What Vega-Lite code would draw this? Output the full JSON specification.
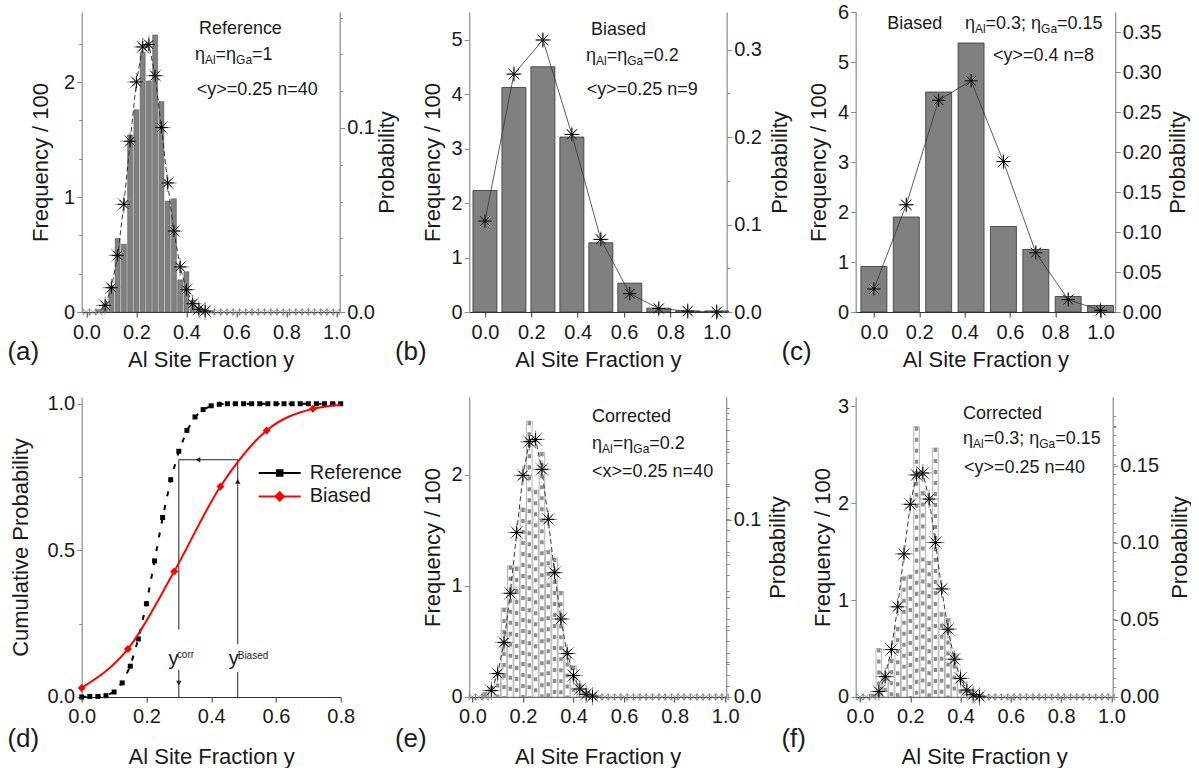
{
"$schema": "https://vega.github.io/schema/vega-lite/v6.json",
"background": "white",
"padding": {"left": 6.7, "top": 2, "right": 0, "bottom": 0},
"autosize": {"type": "pad"},
"columns": 3,
"spacing": {"row": 85, "column": 128.5},
"bounds": "flush",
"resolve": {"scale": {"fill": "independent", "stroke": "independent", "shape": "independent"}, "legend": {"fill": "independent", "stroke": "independent", "shape": "independent"}},
"datasets": {
"one": [{}],
"binom": [{"frac":0.075,"prob":0.0036},{"frac":0.1,"prob":0.0132},{"frac":0.125,"prob":0.0308},{"frac":0.15,"prob":0.0585},{"frac":0.175,"prob":0.0928},{"frac":0.2,"prob":0.125},{"frac":0.225,"prob":0.144},{"frac":0.25,"prob":0.1453},{"frac":0.275,"prob":0.1284},{"frac":0.3,"prob":0.1002},{"frac":0.325,"prob":0.0701},{"frac":0.35,"prob":0.044},{"frac":0.375,"prob":0.0245},{"frac":0.4,"prob":0.0121},{"frac":0.425,"prob":0.0045},{"frac":0.45,"prob":0.0015},{"frac":0.475,"prob":0.0005}],
"tail": [{"frac":0,"prob":0},{"frac":0.025,"prob":0},{"frac":0.05,"prob":0},{"frac":0.5,"prob":0},{"frac":0.525,"prob":0},{"frac":0.55,"prob":0},{"frac":0.575,"prob":0},{"frac":0.6,"prob":0},{"frac":0.625,"prob":0},{"frac":0.65,"prob":0},{"frac":0.675,"prob":0},{"frac":0.7,"prob":0},{"frac":0.725,"prob":0},{"frac":0.75,"prob":0},{"frac":0.775,"prob":0},{"frac":0.8,"prob":0},{"frac":0.825,"prob":0},{"frac":0.85,"prob":0},{"frac":0.875,"prob":0},{"frac":0.9,"prob":0},{"frac":0.925,"prob":0},{"frac":0.95,"prob":0},{"frac":0.975,"prob":0},{"frac":1,"prob":0}],
"ha": [{"frac":0.05,"freq":0.02},{"frac":0.075,"freq":0.07},{"frac":0.1,"freq":0.23},{"frac":0.125,"freq":0.64},{"frac":0.15,"freq":0.59},{"frac":0.175,"freq":1.54},{"frac":0.2,"freq":1.76},{"frac":0.225,"freq":2.26},{"frac":0.25,"freq":2.01},{"frac":0.275,"freq":2.41},{"frac":0.3,"freq":1.83},{"frac":0.325,"freq":0.965},{"frac":0.35,"freq":0.985},{"frac":0.375,"freq":0.28},{"frac":0.4,"freq":0.35},{"frac":0.425,"freq":0.1},{"frac":0.45,"freq":0.04},{"frac":0.475,"freq":0.02},{"frac":0.5,"freq":0.01}],
"he": [{"frac":0.05,"freq":0.04},{"frac":0.075,"freq":0.09},{"frac":0.1,"freq":0.22},{"frac":0.125,"freq":0.8},{"frac":0.15,"freq":1.18},{"frac":0.175,"freq":1.17},{"frac":0.2,"freq":1.7},{"frac":0.225,"freq":2.48},{"frac":0.25,"freq":1.86},{"frac":0.275,"freq":2.2},{"frac":0.3,"freq":1.32},{"frac":0.325,"freq":1.25},{"frac":0.35,"freq":0.95},{"frac":0.375,"freq":0.41},{"frac":0.4,"freq":0.28},{"frac":0.425,"freq":0.11},{"frac":0.45,"freq":0.05},{"frac":0.475,"freq":0.02}],
"hf": [{"frac":0.05,"freq":0.03},{"frac":0.075,"freq":0.5},{"frac":0.1,"freq":0.21},{"frac":0.125,"freq":0.39},{"frac":0.15,"freq":0.72},{"frac":0.175,"freq":1.24},{"frac":0.2,"freq":1.26},{"frac":0.225,"freq":2.79},{"frac":0.25,"freq":2.12},{"frac":0.275,"freq":1.4},{"frac":0.3,"freq":2.57},{"frac":0.325,"freq":0.87},{"frac":0.35,"freq":0.81},{"frac":0.375,"freq":0.45},{"frac":0.4,"freq":0.19},{"frac":0.425,"freq":0.08},{"frac":0.45,"freq":0.04},{"frac":0.475,"freq":0.01}],
"hb": [{"frac":0,"freq":2.23},{"frac":0.125,"freq":4.12},{"frac":0.25,"freq":4.5},{"frac":0.375,"freq":3.21},{"frac":0.5,"freq":1.27},{"frac":0.625,"freq":0.53},{"frac":0.75,"freq":0.07},{"frac":0.875,"freq":0.02},{"frac":1,"freq":0.02}],
"pb": [{"frac":0,"prob":0.104},{"frac":0.125,"prob":0.272},{"frac":0.25,"prob":0.311},{"frac":0.375,"prob":0.203},{"frac":0.5,"prob":0.083},{"frac":0.625,"prob":0.021},{"frac":0.75,"prob":0.004},{"frac":0.875,"prob":0.001},{"frac":1,"prob":0}],
"hc": [{"frac":0,"freq":0.91},{"frac":0.1429,"freq":1.9},{"frac":0.2857,"freq":4.4},{"frac":0.4286,"freq":5.38},{"frac":0.5714,"freq":1.71},{"frac":0.7143,"freq":1.25},{"frac":0.8571,"freq":0.31},{"frac":1,"freq":0.13}],
"pc": [{"frac":0,"prob":0.0288},{"frac":0.1429,"prob":0.134},{"frac":0.2857,"prob":0.2646},{"frac":0.4286,"prob":0.289},{"frac":0.5714,"prob":0.188},{"frac":0.7143,"prob":0.074},{"frac":0.8571,"prob":0.0154},{"frac":1,"prob":0.002}],
"cum": [{"series":"Reference","frac":0,"cum":0},{"series":"Reference","frac":0.025,"cum":0.002},{"series":"Reference","frac":0.05,"cum":0.002},{"series":"Reference","frac":0.075,"cum":0.0045},{"series":"Reference","frac":0.1,"cum":0.017},{"series":"Reference","frac":0.125,"cum":0.048},{"series":"Reference","frac":0.15,"cum":0.105},{"series":"Reference","frac":0.175,"cum":0.198},{"series":"Reference","frac":0.2,"cum":0.318},{"series":"Reference","frac":0.225,"cum":0.464},{"series":"Reference","frac":0.25,"cum":0.612},{"series":"Reference","frac":0.275,"cum":0.741},{"series":"Reference","frac":0.3,"cum":0.838},{"series":"Reference","frac":0.325,"cum":0.909},{"series":"Reference","frac":0.35,"cum":0.955},{"series":"Reference","frac":0.375,"cum":0.98},{"series":"Reference","frac":0.4,"cum":0.993},{"series":"Reference","frac":0.425,"cum":0.998},{"series":"Reference","frac":0.45,"cum":1},{"series":"Reference","frac":0.475,"cum":1},{"series":"Reference","frac":0.5,"cum":1},{"series":"Reference","frac":0.525,"cum":1},{"series":"Reference","frac":0.55,"cum":1},{"series":"Reference","frac":0.575,"cum":1},{"series":"Reference","frac":0.6,"cum":1},{"series":"Reference","frac":0.625,"cum":1},{"series":"Reference","frac":0.65,"cum":1},{"series":"Reference","frac":0.675,"cum":1},{"series":"Reference","frac":0.7,"cum":1},{"series":"Reference","frac":0.725,"cum":1},{"series":"Reference","frac":0.75,"cum":1},{"series":"Reference","frac":0.775,"cum":1},{"series":"Reference","frac":0.8,"cum":1},{"series":"Biased","frac":0,"cum":0.031},{"series":"Biased","frac":0.1429,"cum":0.164},{"series":"Biased","frac":0.2857,"cum":0.428},{"series":"Biased","frac":0.4286,"cum":0.718},{"series":"Biased","frac":0.5714,"cum":0.909},{"series":"Biased","frac":0.7143,"cum":0.983},{"series":"Biased","frac":0.8,"cum":0.996}],
"dseg": [{"frac":0.3,"cum":0.809,"frac2":0.482,"cum2":0.809},{"frac":0.3,"cum":0.809,"frac2":0.3,"cum2":0.23},{"frac":0.3,"cum":0.093,"frac2":0.3,"cum2":0},{"frac":0.482,"cum":0.809,"frac2":0.482,"cum2":0.18},{"frac":0.482,"cum":0.085,"frac2":0.482,"cum2":0}],
"darrow": [{"frac":0.3,"cum":0.047,"dir":"down"},{"frac":0.482,"cum":0.735,"dir":"up"},{"frac":0.359,"cum":0.809,"dir":"left"}]
},
"concat": [
{
"width": 258, "height": 300,
"title": {"text": "(a)", "orient": "bottom", "anchor": "start", "frame": "group", "dx": -74.3, "dy": -31.5, "offset": 0, "fontSize": 26, "fontWeight": "normal", "color": "#1a1a1a"},
"layer": [
{"layer": [
{"data": {"name": "ha"}, "mark": {"type": "bar", "width": 5, "fill": "#808080", "stroke": "#4a4a4a", "strokeWidth": 0.5},
 "encoding": {
  "x": {"field": "frac", "type": "quantitative", "scale": {"domain": [-0.0188, 1.0132], "nice": false, "padding": 0}, "title": "Al Site Fraction y",
        "axis": {"values": [0,0.1,0.2,0.3,0.4,0.5,0.6,0.7,0.8,0.9,1], "labelOverlap": false, "labelExpr": "round(datum.value*10) % 2 === 0 ? format(datum.value, '.1f') : ''", "tickSize": {"condition": {"test": "round(datum.value*10) % 2 === 0", "value": 5}, "value": 3}, "titlePadding": 7}},
  "y": {"field": "freq", "type": "quantitative", "scale": {"domain": [0, 2.609], "nice": false}, "title": "Frequency / 100",
        "axis": {"values": [0,0.3333,0.6667,1,1.3333,1.6667,2,2.3333], "labelOverlap": false, "labelExpr": "abs(datum.value - round(datum.value)) < 0.01 ? format(datum.value, 'd') : ''", "tickSize": {"condition": {"test": "abs(datum.value - round(datum.value)) < 0.01", "value": 5}, "value": 3}, "titlePadding": 11}}}},
{"data": {"name": "one"}, "mark": {"type": "text", "text": "Reference", "align": "left", "baseline": "alphabetic", "fontSize": 18}, "encoding": {"x": {"datum": 0.45, "type": "quantitative", "scale": {"domain": [-0.0188, 1.0132], "nice": false}}, "y": {"datum": 2.421, "type": "quantitative", "scale": {"domain": [0, 2.609], "nice": false}}}},
{"data": {"name": "one"}, "mark": {"type": "text", "text": "η", "align": "left", "baseline": "alphabetic", "fontSize": 18}, "encoding": {"x": {"datum": 0.434, "type": "quantitative", "scale": {"domain": [-0.0188, 1.0132], "nice": false}}, "y": {"datum": 2.189, "type": "quantitative", "scale": {"domain": [0, 2.609], "nice": false}}}},
{"data": {"name": "one"}, "mark": {"type": "text", "text": "Al", "align": "left", "baseline": "alphabetic", "fontSize": 12, "dx": 10, "dy": 4}, "encoding": {"x": {"datum": 0.434, "type": "quantitative", "scale": {"domain": [-0.0188, 1.0132], "nice": false}}, "y": {"datum": 2.189, "type": "quantitative", "scale": {"domain": [0, 2.609], "nice": false}}}},
{"data": {"name": "one"}, "mark": {"type": "text", "text": "=η", "align": "left", "baseline": "alphabetic", "fontSize": 18, "dx": 20.7}, "encoding": {"x": {"datum": 0.434, "type": "quantitative", "scale": {"domain": [-0.0188, 1.0132], "nice": false}}, "y": {"datum": 2.189, "type": "quantitative", "scale": {"domain": [0, 2.609], "nice": false}}}},
{"data": {"name": "one"}, "mark": {"type": "text", "text": "Ga", "align": "left", "baseline": "alphabetic", "fontSize": 12, "dx": 41.2, "dy": 4}, "encoding": {"x": {"datum": 0.434, "type": "quantitative", "scale": {"domain": [-0.0188, 1.0132], "nice": false}}, "y": {"datum": 2.189, "type": "quantitative", "scale": {"domain": [0, 2.609], "nice": false}}}},
{"data": {"name": "one"}, "mark": {"type": "text", "text": "=1", "align": "left", "baseline": "alphabetic", "fontSize": 18, "dx": 57.2}, "encoding": {"x": {"datum": 0.434, "type": "quantitative", "scale": {"domain": [-0.0188, 1.0132], "nice": false}}, "y": {"datum": 2.189, "type": "quantitative", "scale": {"domain": [0, 2.609], "nice": false}}}},
{"data": {"name": "one"}, "mark": {"type": "text", "text": "<y>=0.25 n=40", "align": "left", "baseline": "alphabetic", "fontSize": 18}, "encoding": {"x": {"datum": 0.441, "type": "quantitative", "scale": {"domain": [-0.0188, 1.0132], "nice": false}}, "y": {"datum": 1.89, "type": "quantitative", "scale": {"domain": [0, 2.609], "nice": false}}}}
]},
{"layer": [
{"data": {"name": "tail"}, "mark": {"type": "point", "shape": "M-1,-1L1,1L1,-1L-1,1Z", "size": 42, "stroke": "#808080", "strokeWidth": 0.8, "filled": false, "opacity": 1},
 "encoding": {"x": {"field": "frac", "type": "quantitative", "scale": {"domain": [-0.0188, 1.0132], "nice": false}, "title": "Al Site Fraction y"},
  "y": {"field": "prob", "type": "quantitative", "scale": {"domain": [0, 0.163], "nice": false}, "title": "Probability",
        "axis": {"orient": "right", "values": [0, 0.1], "format": ".1f", "tickSize": 5, "titleAngle": 270, "titleBaseline": "top", "titlePadding": 2}}}},
{"data": {"name": "binom"}, "mark": {"type": "line", "stroke": "#222222", "strokeWidth": 0.9, "strokeDash": [5, 3]},
 "encoding": {"x": {"field": "frac", "type": "quantitative", "scale": {"domain": [-0.0188, 1.0132], "nice": false}, "title": "Al Site Fraction y"}, "y": {"field": "prob", "type": "quantitative", "scale": {"domain": [0, 0.163], "nice": false}, "title": null,
        "axis": {"orient": "right", "values": [0.02,0.04,0.06,0.08,0.12,0.14,0.16], "labels": false, "domain": false, "tickSize": 3, "title": null}}}},
{"data": {"name": "binom"}, "mark": {"type": "point", "shape": "M-1,0L1,0M0,-1L0,1M-0.71,-0.71L0.71,0.71M-0.71,0.71L0.71,-0.71", "size": 324, "stroke": "#8a8a8a", "strokeWidth": 1, "filled": false, "opacity": 1},
 "encoding": {"x": {"field": "frac", "type": "quantitative", "scale": {"domain": [-0.0188, 1.0132], "nice": false}, "title": "Al Site Fraction y"}, "y": {"field": "prob", "type": "quantitative", "scale": {"domain": [0, 0.163], "nice": false}, "axis": null}}},
{"data": {"name": "binom"}, "mark": {"type": "point", "shape": "M-1,0L1,0M0,-1L0,1M-0.71,-0.71L0.71,0.71M-0.71,0.71L0.71,-0.71", "size": 150, "stroke": "#000000", "strokeWidth": 1, "filled": false, "opacity": 1},
 "encoding": {"x": {"field": "frac", "type": "quantitative", "scale": {"domain": [-0.0188, 1.0132], "nice": false}, "title": "Al Site Fraction y"}, "y": {"field": "prob", "type": "quantitative", "scale": {"domain": [0, 0.163], "nice": false}, "axis": null}}}
],
"resolve": {"axis": {"y": "independent"}}}
],
"resolve": {"scale": {"y": "independent"}}
},
{
"width": 257.5, "height": 300,
"title": {"text": "(b)", "orient": "bottom", "anchor": "start", "frame": "group", "dx": -74.3, "dy": -31.5, "offset": 0, "fontSize": 26, "fontWeight": "normal", "color": "#1a1a1a"},
"layer": [
{"layer": [
{"data": {"name": "hb"}, "mark": {"type": "bar", "width": 24, "fill": "#808080", "stroke": "#333333", "strokeWidth": 0.8},
 "encoding": {
  "x": {"field": "frac", "type": "quantitative", "scale": {"domain": [-0.068, 1.043], "nice": false, "padding": 0}, "title": "Al Site Fraction y",
        "axis": {"values": [0,0.1,0.2,0.3,0.4,0.5,0.6,0.7,0.8,0.9,1], "labelOverlap": false, "labelExpr": "round(datum.value*10) % 2 === 0 ? format(datum.value, '.1f') : ''", "tickSize": {"condition": {"test": "round(datum.value*10) % 2 === 0", "value": 5}, "value": 3}, "titlePadding": 7}},
  "y": {"field": "freq", "type": "quantitative", "scale": {"domain": [0, 5.505], "nice": false}, "title": "Frequency / 100",
        "axis": {"values": [0,0.5,1,1.5,2,2.5,3,3.5,4,4.5,5,5.5], "labelOverlap": false, "labelExpr": "abs(datum.value - round(datum.value)) < 0.01 ? format(datum.value, 'd') : ''", "tickSize": {"condition": {"test": "abs(datum.value - round(datum.value)) < 0.01", "value": 5}, "value": 3}, "titlePadding": 7}}}},
{"data": {"name": "one"}, "mark": {"type": "text", "text": "Biased", "align": "left", "baseline": "alphabetic", "fontSize": 18}, "encoding": {"x": {"datum": 0.4575, "type": "quantitative", "scale": {"domain": [-0.068, 1.043], "nice": false}}, "y": {"datum": 5.09, "type": "quantitative", "scale": {"domain": [0, 5.505], "nice": false}}}},
{"data": {"name": "one"}, "mark": {"type": "text", "text": "η", "align": "left", "baseline": "alphabetic", "fontSize": 18}, "encoding": {"x": {"datum": 0.436, "type": "quantitative", "scale": {"domain": [-0.068, 1.043], "nice": false}}, "y": {"datum": 4.605, "type": "quantitative", "scale": {"domain": [0, 5.505], "nice": false}}}},
{"data": {"name": "one"}, "mark": {"type": "text", "text": "Al", "align": "left", "baseline": "alphabetic", "fontSize": 12, "dx": 10, "dy": 4}, "encoding": {"x": {"datum": 0.436, "type": "quantitative", "scale": {"domain": [-0.068, 1.043], "nice": false}}, "y": {"datum": 4.605, "type": "quantitative", "scale": {"domain": [0, 5.505], "nice": false}}}},
{"data": {"name": "one"}, "mark": {"type": "text", "text": "=η", "align": "left", "baseline": "alphabetic", "fontSize": 18, "dx": 20.7}, "encoding": {"x": {"datum": 0.436, "type": "quantitative", "scale": {"domain": [-0.068, 1.043], "nice": false}}, "y": {"datum": 4.605, "type": "quantitative", "scale": {"domain": [0, 5.505], "nice": false}}}},
{"data": {"name": "one"}, "mark": {"type": "text", "text": "Ga", "align": "left", "baseline": "alphabetic", "fontSize": 12, "dx": 41.2, "dy": 4}, "encoding": {"x": {"datum": 0.436, "type": "quantitative", "scale": {"domain": [-0.068, 1.043], "nice": false}}, "y": {"datum": 4.605, "type": "quantitative", "scale": {"domain": [0, 5.505], "nice": false}}}},
{"data": {"name": "one"}, "mark": {"type": "text", "text": "=0.2", "align": "left", "baseline": "alphabetic", "fontSize": 18, "dx": 57.2}, "encoding": {"x": {"datum": 0.436, "type": "quantitative", "scale": {"domain": [-0.068, 1.043], "nice": false}}, "y": {"datum": 4.605, "type": "quantitative", "scale": {"domain": [0, 5.505], "nice": false}}}},
{"data": {"name": "one"}, "mark": {"type": "text", "text": "<y>=0.25 n=9", "align": "left", "baseline": "alphabetic", "fontSize": 18}, "encoding": {"x": {"datum": 0.439, "type": "quantitative", "scale": {"domain": [-0.068, 1.043], "nice": false}}, "y": {"datum": 3.99, "type": "quantitative", "scale": {"domain": [0, 5.505], "nice": false}}}}
]},
{"layer": [
{"data": {"name": "pb"}, "mark": {"type": "line", "stroke": "#333333", "strokeWidth": 0.8},
 "encoding": {"x": {"field": "frac", "type": "quantitative", "scale": {"domain": [-0.068, 1.043], "nice": false}, "title": "Al Site Fraction y"},
  "y": {"field": "prob", "type": "quantitative", "scale": {"domain": [0, 0.343], "nice": false}, "title": "Probability",
        "axis": {"orient": "right", "values": [0,0.05,0.1,0.15,0.2,0.25,0.3], "labelOverlap": false, "labelExpr": "abs(datum.value*10 - round(datum.value*10)) < 0.001 ? format(datum.value, '.1f') : ''", "tickSize": {"condition": {"test": "abs(datum.value*10 - round(datum.value*10)) < 0.001", "value": 5}, "value": 3}, "titleAngle": 270, "titleBaseline": "top", "titlePadding": 8}}}},
{"data": {"name": "pb"}, "mark": {"type": "point", "shape": "M-1,0L1,0M0,-1L0,1M-0.71,-0.71L0.71,0.71M-0.71,0.71L0.71,-0.71", "size": 256, "stroke": "#8a8a8a", "strokeWidth": 1, "filled": false, "opacity": 1},
 "encoding": {"x": {"field": "frac", "type": "quantitative", "scale": {"domain": [-0.068, 1.043], "nice": false}, "title": "Al Site Fraction y"}, "y": {"field": "prob", "type": "quantitative", "scale": {"domain": [0, 0.343], "nice": false}, "title": "Probability"}}},
{"data": {"name": "pb"}, "mark": {"type": "point", "shape": "M-1,0L1,0M0,-1L0,1M-0.71,-0.71L0.71,0.71M-0.71,0.71L0.71,-0.71", "size": 180, "stroke": "#000000", "strokeWidth": 1, "filled": false, "opacity": 1},
 "encoding": {"x": {"field": "frac", "type": "quantitative", "scale": {"domain": [-0.068, 1.043], "nice": false}, "title": "Al Site Fraction y"}, "y": {"field": "prob", "type": "quantitative", "scale": {"domain": [0, 0.343], "nice": false}, "title": "Probability"}}}
]}
],
"resolve": {"scale": {"y": "independent"}}
},
{
"width": 259.5, "height": 300,
"title": {"text": "(c)", "orient": "bottom", "anchor": "start", "frame": "group", "dx": -74.3, "dy": -31.5, "offset": 0, "fontSize": 26, "fontWeight": "normal", "color": "#1a1a1a"},
"layer": [
{"layer": [
{"data": {"name": "hc"}, "mark": {"type": "bar", "width": 26, "fill": "#808080", "stroke": "#333333", "strokeWidth": 0.8},
 "encoding": {
  "x": {"field": "frac", "type": "quantitative", "scale": {"domain": [-0.0803, 1.0644], "nice": false, "padding": 0}, "title": "Al Site Fraction y",
        "axis": {"values": [0,0.1,0.2,0.3,0.4,0.5,0.6,0.7,0.8,0.9,1], "labelOverlap": false, "labelExpr": "round(datum.value*10) % 2 === 0 ? format(datum.value, '.1f') : ''", "tickSize": {"condition": {"test": "round(datum.value*10) % 2 === 0", "value": 5}, "value": 3}, "titlePadding": 7}},
  "y": {"field": "freq", "type": "quantitative", "scale": {"domain": [0, 6], "nice": false}, "title": "Frequency / 100",
        "axis": {"values": [0,0.5,1,1.5,2,2.5,3,3.5,4,4.5,5,5.5,6], "labelOverlap": false, "labelExpr": "abs(datum.value - round(datum.value)) < 0.01 ? format(datum.value, 'd') : ''", "tickSize": {"condition": {"test": "abs(datum.value - round(datum.value)) < 0.01", "value": 5}, "value": 3}, "titlePadding": 7}}}},
{"data": {"name": "one"}, "mark": {"type": "text", "text": "Biased", "align": "left", "baseline": "alphabetic", "fontSize": 18}, "encoding": {"x": {"datum": 0.0587, "type": "quantitative", "scale": {"domain": [-0.0803, 1.0644], "nice": false}}, "y": {"datum": 5.654, "type": "quantitative", "scale": {"domain": [0, 6], "nice": false}}}},
{"data": {"name": "one"}, "mark": {"type": "text", "text": "η", "align": "left", "baseline": "alphabetic", "fontSize": 18}, "encoding": {"x": {"datum": 0.4014, "type": "quantitative", "scale": {"domain": [-0.0803, 1.0644], "nice": false}}, "y": {"datum": 5.668, "type": "quantitative", "scale": {"domain": [0, 6], "nice": false}}}},
{"data": {"name": "one"}, "mark": {"type": "text", "text": "Al", "align": "left", "baseline": "alphabetic", "fontSize": 12, "dx": 10, "dy": 4}, "encoding": {"x": {"datum": 0.4014, "type": "quantitative", "scale": {"domain": [-0.0803, 1.0644], "nice": false}}, "y": {"datum": 5.668, "type": "quantitative", "scale": {"domain": [0, 6], "nice": false}}}},
{"data": {"name": "one"}, "mark": {"type": "text", "text": "=0.3; η", "align": "left", "baseline": "alphabetic", "fontSize": 18, "dx": 20.7}, "encoding": {"x": {"datum": 0.4014, "type": "quantitative", "scale": {"domain": [-0.0803, 1.0644], "nice": false}}, "y": {"datum": 5.668, "type": "quantitative", "scale": {"domain": [0, 6], "nice": false}}}},
{"data": {"name": "one"}, "mark": {"type": "text", "text": "Ga", "align": "left", "baseline": "alphabetic", "fontSize": 12, "dx": 76.2, "dy": 4}, "encoding": {"x": {"datum": 0.4014, "type": "quantitative", "scale": {"domain": [-0.0803, 1.0644], "nice": false}}, "y": {"datum": 5.668, "type": "quantitative", "scale": {"domain": [0, 6], "nice": false}}}},
{"data": {"name": "one"}, "mark": {"type": "text", "text": "=0.15", "align": "left", "baseline": "alphabetic", "fontSize": 18, "dx": 92.2}, "encoding": {"x": {"datum": 0.4014, "type": "quantitative", "scale": {"domain": [-0.0803, 1.0644], "nice": false}}, "y": {"datum": 5.668, "type": "quantitative", "scale": {"domain": [0, 6], "nice": false}}}},
{"data": {"name": "one"}, "mark": {"type": "text", "text": "<y>=0.4 n=8", "align": "left", "baseline": "alphabetic", "fontSize": 18}, "encoding": {"x": {"datum": 0.525, "type": "quantitative", "scale": {"domain": [-0.0803, 1.0644], "nice": false}}, "y": {"datum": 5.014, "type": "quantitative", "scale": {"domain": [0, 6], "nice": false}}}}
]},
{"layer": [
{"data": {"name": "pc"}, "mark": {"type": "line", "stroke": "#333333", "strokeWidth": 0.8},
 "encoding": {"x": {"field": "frac", "type": "quantitative", "scale": {"domain": [-0.0803, 1.0644], "nice": false}, "title": "Al Site Fraction y"},
  "y": {"field": "prob", "type": "quantitative", "scale": {"domain": [0, 0.375], "nice": false}, "title": "Probability",
        "axis": {"orient": "right", "values": [0,0.025,0.05,0.075,0.1,0.125,0.15,0.175,0.2,0.225,0.25,0.275,0.3,0.325,0.35,0.375], "labelOverlap": false, "labelExpr": "abs(datum.value*20 - round(datum.value*20)) < 0.001 ? format(datum.value, '.2f') : ''", "tickSize": {"condition": {"test": "abs(datum.value*20 - round(datum.value*20)) < 0.001", "value": 5}, "value": 3}, "titleAngle": 270, "titleBaseline": "top", "titlePadding": 6}}}},
{"data": {"name": "pc"}, "mark": {"type": "point", "shape": "M-1,0L1,0M0,-1L0,1M-0.71,-0.71L0.71,0.71M-0.71,0.71L0.71,-0.71", "size": 256, "stroke": "#8a8a8a", "strokeWidth": 1, "filled": false, "opacity": 1},
 "encoding": {"x": {"field": "frac", "type": "quantitative", "scale": {"domain": [-0.0803, 1.0644], "nice": false}, "title": "Al Site Fraction y"}, "y": {"field": "prob", "type": "quantitative", "scale": {"domain": [0, 0.375], "nice": false}, "title": "Probability"}}},
{"data": {"name": "pc"}, "mark": {"type": "point", "shape": "M-1,0L1,0M0,-1L0,1M-0.71,-0.71L0.71,0.71M-0.71,0.71L0.71,-0.71", "size": 180, "stroke": "#000000", "strokeWidth": 1, "filled": false, "opacity": 1},
 "encoding": {"x": {"field": "frac", "type": "quantitative", "scale": {"domain": [-0.0803, 1.0644], "nice": false}, "title": "Al Site Fraction y"}, "y": {"field": "prob", "type": "quantitative", "scale": {"domain": [0, 0.375], "nice": false}, "title": "Probability"}}}
]}
],
"resolve": {"scale": {"y": "independent"}}
},
{
"width": 259, "height": 300,
"title": {"text": "(d)", "orient": "bottom", "anchor": "start", "frame": "group", "dx": -74.3, "dy": -42, "offset": 0, "fontSize": 26, "fontWeight": "normal", "color": "#1a1a1a"},
"layer": [
{"data": {"name": "dseg"}, "mark": {"type": "rule", "stroke": "#222222", "strokeWidth": 1},
 "encoding": {
  "x": {"field": "frac", "type": "quantitative", "scale": {"domain": [0, 0.8], "nice": false}, "title": "Al Site Fraction y",
        "axis": {"values": [0,0.1,0.2,0.3,0.4,0.5,0.6,0.7,0.8], "labelOverlap": false, "labelExpr": "round(datum.value*10) % 2 === 0 ? format(datum.value, '.1f') : ''", "tickSize": {"condition": {"test": "round(datum.value*10) % 2 === 0", "value": 5}, "value": 3}, "titlePadding": 20}},
  "y": {"field": "cum", "type": "quantitative", "scale": {"domain": [0, 1.023], "nice": false}, "title": "Cumulative Probability",
        "axis": {"values": [0,0.25,0.5,0.75,1], "labelOverlap": false, "labelExpr": "abs(datum.value*2 - round(datum.value*2)) < 0.001 ? format(datum.value, '.1f') : ''", "tickSize": {"condition": {"test": "abs(datum.value*2 - round(datum.value*2)) < 0.001", "value": 5}, "value": 3}, "titlePadding": 14}},
  "x2": {"field": "frac2"}, "y2": {"field": "cum2"}}},
{"data": {"name": "darrow"}, "transform": [{"filter": "datum.dir === 'down'"}], "mark": {"type": "point", "shape": "triangle-down", "size": 30, "filled": true, "color": "#222222", "opacity": 1},
 "encoding": {"x": {"field": "frac", "type": "quantitative", "scale": {"domain": [0, 0.8], "nice": false}}, "y": {"field": "cum", "type": "quantitative", "scale": {"domain": [0, 1.023], "nice": false}}}},
{"data": {"name": "darrow"}, "transform": [{"filter": "datum.dir === 'up'"}], "mark": {"type": "point", "shape": "triangle-up", "size": 30, "filled": true, "color": "#222222", "opacity": 1},
 "encoding": {"x": {"field": "frac", "type": "quantitative", "scale": {"domain": [0, 0.8], "nice": false}}, "y": {"field": "cum", "type": "quantitative", "scale": {"domain": [0, 1.023], "nice": false}}}},
{"data": {"name": "darrow"}, "transform": [{"filter": "datum.dir === 'left'"}], "mark": {"type": "point", "shape": "triangle-left", "size": 30, "filled": true, "color": "#222222", "opacity": 1},
 "encoding": {"x": {"field": "frac", "type": "quantitative", "scale": {"domain": [0, 0.8], "nice": false}}, "y": {"field": "cum", "type": "quantitative", "scale": {"domain": [0, 1.023], "nice": false}}}},
{"data": {"name": "cum"}, "transform": [{"filter": "datum.series === 'Reference'"}], "mark": {"type": "line", "stroke": "#000000", "strokeWidth": 2, "strokeDash": [5, 9]},
 "encoding": {"x": {"field": "frac", "type": "quantitative", "scale": {"domain": [0, 0.8], "nice": false}}, "y": {"field": "cum", "type": "quantitative", "scale": {"domain": [0, 1.023], "nice": false}}}},
{"data": {"name": "cum"}, "transform": [{"filter": "datum.series === 'Reference'"}], "mark": {"type": "point", "shape": "square", "size": 25, "filled": true, "color": "#000000", "opacity": 1},
 "encoding": {"x": {"field": "frac", "type": "quantitative", "scale": {"domain": [0, 0.8], "nice": false}}, "y": {"field": "cum", "type": "quantitative", "scale": {"domain": [0, 1.023], "nice": false}}}},
{"data": {"name": "cum"}, "transform": [{"filter": "datum.series === 'Biased'"}], "mark": {"type": "line", "stroke": "#ff0000", "strokeWidth": 2, "interpolate": "monotone"},
 "encoding": {"x": {"field": "frac", "type": "quantitative", "scale": {"domain": [0, 0.8], "nice": false}}, "y": {"field": "cum", "type": "quantitative", "scale": {"domain": [0, 1.023], "nice": false}}}},
{"data": {"name": "cum"}, "transform": [{"filter": "datum.series === 'Biased' && datum.frac < 0.75"}], "mark": {"type": "point", "shape": "diamond", "size": 64, "filled": true, "color": "#ff0000", "opacity": 1},
 "encoding": {"x": {"field": "frac", "type": "quantitative", "scale": {"domain": [0, 0.8], "nice": false}}, "y": {"field": "cum", "type": "quantitative", "scale": {"domain": [0, 1.023], "nice": false}}}},
{"data": {"name": "cum"}, "transform": [{"filter": "false"}], "mark": {"type": "point", "filled": true, "strokeWidth": 2},
 "encoding": {"x": {"field": "frac", "type": "quantitative", "scale": {"domain": [0, 0.8], "nice": false}}, "y": {"field": "cum", "type": "quantitative", "scale": {"domain": [0, 1.023], "nice": false}},
  "fill": {"field": "series", "type": "nominal", "scale": {"domain": ["Reference", "Biased"], "range": ["#000000", "#ff0000"]},
           "legend": {"title": null, "orient": "none", "legendX": 188, "legendY": 66, "symbolSize": 196, "symbolStrokeWidth": 2, "symbolOpacity": 1, "labelFontSize": 20, "labelFont": "Liberation Sans", "labelColor": "#1a1a1a", "labelOffset": 20, "rowPadding": 3.4, "padding": 0}},
  "stroke": {"field": "series", "type": "nominal", "scale": {"domain": ["Reference", "Biased"], "range": ["#000000", "#ff0000"]},
           "legend": {"title": null, "orient": "none", "legendX": 188, "legendY": 66, "symbolSize": 196, "symbolStrokeWidth": 2, "symbolOpacity": 1, "labelFontSize": 20, "labelFont": "Liberation Sans", "labelColor": "#1a1a1a", "labelOffset": 20, "rowPadding": 3.4, "padding": 0}},
  "shape": {"field": "series", "type": "nominal", "scale": {"domain": ["Reference", "Biased"], "range": ["M-3,0L3,0M-0.4,-0.4L0.4,-0.4L0.4,0.4L-0.4,0.4Z", "M-3,0L3,0M0,-0.6L0.6,0L0,0.6L-0.6,0Z"]},
           "legend": {"title": null, "orient": "none", "legendX": 188, "legendY": 66, "symbolSize": 196, "symbolStrokeWidth": 2, "symbolOpacity": 1, "labelFontSize": 20, "labelFont": "Liberation Sans", "labelColor": "#1a1a1a", "labelOffset": 20, "rowPadding": 3.4, "padding": 0}}}},
{"data": {"name": "one"}, "mark": {"type": "text", "text": "y", "align": "left", "baseline": "alphabetic", "fontSize": 20}, "encoding": {"x": {"datum": 0.268, "type": "quantitative", "scale": {"domain": [0, 0.8], "nice": false}}, "y": {"datum": 0.11, "type": "quantitative", "scale": {"domain": [0, 1.023], "nice": false}}}},
{"data": {"name": "one"}, "mark": {"type": "text", "text": "corr", "align": "left", "baseline": "alphabetic", "fontSize": 10}, "encoding": {"x": {"datum": 0.294, "type": "quantitative", "scale": {"domain": [0, 0.8], "nice": false}}, "y": {"datum": 0.133, "type": "quantitative", "scale": {"domain": [0, 1.023], "nice": false}}}},
{"data": {"name": "one"}, "mark": {"type": "text", "text": "y", "align": "left", "baseline": "alphabetic", "fontSize": 20}, "encoding": {"x": {"datum": 0.454, "type": "quantitative", "scale": {"domain": [0, 0.8], "nice": false}}, "y": {"datum": 0.11, "type": "quantitative", "scale": {"domain": [0, 1.023], "nice": false}}}},
{"data": {"name": "one"}, "mark": {"type": "text", "text": "Biased", "align": "left", "baseline": "alphabetic", "fontSize": 10}, "encoding": {"x": {"datum": 0.482, "type": "quantitative", "scale": {"domain": [0, 0.8], "nice": false}}, "y": {"datum": 0.1296, "type": "quantitative", "scale": {"domain": [0, 1.023], "nice": false}}}}
]
},
{
"width": 257, "height": 300,
"title": {"text": "(e)", "orient": "bottom", "anchor": "start", "frame": "group", "dx": -74.3, "dy": -42, "offset": 0, "fontSize": 26, "fontWeight": "normal", "color": "#1a1a1a"},
"layer": [
{"layer": [
{"data": {"name": "he"}, "mark": {"type": "bar", "width": 5.6, "fill": "#ffffff", "stroke": "#b4b4b4", "strokeWidth": 1},
 "encoding": {
  "x": {"field": "frac", "type": "quantitative", "scale": {"domain": [-0.0127, 1.004], "nice": false, "padding": 0}, "title": "Al Site Fraction y",
        "axis": {"values": [0,0.1,0.2,0.3,0.4,0.5,0.6,0.7,0.8,0.9,1], "labelOverlap": false, "labelExpr": "round(datum.value*10) % 2 === 0 ? format(datum.value, '.1f') : ''", "tickSize": {"condition": {"test": "round(datum.value*10) % 2 === 0", "value": 5}, "value": 3}, "titlePadding": 20}},
  "y": {"field": "freq", "type": "quantitative", "scale": {"domain": [0, 2.698], "nice": false}, "title": "Frequency / 100",
        "axis": {"values": [0, 1, 2], "format": "d", "tickSize": 5, "titlePadding": 7}}}},
{"data": {"name": "he"}, "mark": {"type": "rule", "stroke": "#8c8c8c", "strokeWidth": 3.4, "strokeDash": [4, 7], "strokeCap": "butt"},
 "encoding": {"x": {"field": "frac", "type": "quantitative", "scale": {"domain": [-0.0127, 1.004], "nice": false}}, "y": {"field": "freq", "type": "quantitative", "scale": {"domain": [0, 2.698], "nice": false}, "axis": null}, "y2": {"datum": 0}}},
{"data": {"name": "one"}, "mark": {"type": "text", "text": "Corrected", "align": "left", "baseline": "alphabetic", "fontSize": 18}, "encoding": {"x": {"datum": 0.4736, "type": "quantitative", "scale": {"domain": [-0.0127, 1.004], "nice": false}}, "y": {"datum": 2.473, "type": "quantitative", "scale": {"domain": [0, 2.698], "nice": false},
   "axis": {"values": [0.1,0.2,0.3,0.4,0.5,0.6,0.7,0.8,0.9,1.1,1.2,1.3,1.4,1.5,1.6,1.7,1.8,1.9,2.1,2.2,2.3,2.4,2.5,2.6], "labels": false, "domain": false, "tickSize": 3, "title": null}}}},
{"data": {"name": "one"}, "mark": {"type": "text", "text": "η", "align": "left", "baseline": "alphabetic", "fontSize": 18}, "encoding": {"x": {"datum": 0.4736, "type": "quantitative", "scale": {"domain": [-0.0127, 1.004], "nice": false}}, "y": {"datum": 2.233, "type": "quantitative", "scale": {"domain": [0, 2.698], "nice": false}, "axis": null}}},
{"data": {"name": "one"}, "mark": {"type": "text", "text": "Al", "align": "left", "baseline": "alphabetic", "fontSize": 12, "dx": 10, "dy": 4}, "encoding": {"x": {"datum": 0.4736, "type": "quantitative", "scale": {"domain": [-0.0127, 1.004], "nice": false}}, "y": {"datum": 2.233, "type": "quantitative", "scale": {"domain": [0, 2.698], "nice": false}, "axis": null}}},
{"data": {"name": "one"}, "mark": {"type": "text", "text": "=η", "align": "left", "baseline": "alphabetic", "fontSize": 18, "dx": 20.7}, "encoding": {"x": {"datum": 0.4736, "type": "quantitative", "scale": {"domain": [-0.0127, 1.004], "nice": false}}, "y": {"datum": 2.233, "type": "quantitative", "scale": {"domain": [0, 2.698], "nice": false}, "axis": null}}},
{"data": {"name": "one"}, "mark": {"type": "text", "text": "Ga", "align": "left", "baseline": "alphabetic", "fontSize": 12, "dx": 41.2, "dy": 4}, "encoding": {"x": {"datum": 0.4736, "type": "quantitative", "scale": {"domain": [-0.0127, 1.004], "nice": false}}, "y": {"datum": 2.233, "type": "quantitative", "scale": {"domain": [0, 2.698], "nice": false}, "axis": null}}},
{"data": {"name": "one"}, "mark": {"type": "text", "text": "=0.2", "align": "left", "baseline": "alphabetic", "fontSize": 18, "dx": 57.2}, "encoding": {"x": {"datum": 0.4736, "type": "quantitative", "scale": {"domain": [-0.0127, 1.004], "nice": false}}, "y": {"datum": 2.233, "type": "quantitative", "scale": {"domain": [0, 2.698], "nice": false}, "axis": null}}},
{"data": {"name": "one"}, "mark": {"type": "text", "text": "<x>=0.25 n=40", "align": "left", "baseline": "alphabetic", "fontSize": 18}, "encoding": {"x": {"datum": 0.4736, "type": "quantitative", "scale": {"domain": [-0.0127, 1.004], "nice": false}}, "y": {"datum": 1.978, "type": "quantitative", "scale": {"domain": [0, 2.698], "nice": false}, "axis": null}}}
],
"resolve": {"axis": {"y": "independent"}}},
{"layer": [
{"data": {"name": "tail"}, "mark": {"type": "point", "shape": "M-1,-1L1,1L1,-1L-1,1Z", "size": 42, "stroke": "#808080", "strokeWidth": 0.8, "filled": false, "opacity": 1},
 "encoding": {"x": {"field": "frac", "type": "quantitative", "scale": {"domain": [-0.0127, 1.004], "nice": false}, "title": "Al Site Fraction y"},
  "y": {"field": "prob", "type": "quantitative", "scale": {"domain": [0, 0.1692], "nice": false}, "title": "Probability",
        "axis": {"orient": "right", "values": [0, 0.1], "format": ".1f", "tickSize": 5, "titleAngle": 270, "titleBaseline": "top", "titlePadding": 7}}}},
{"data": {"name": "binom"}, "mark": {"type": "line", "stroke": "#222222", "strokeWidth": 0.9, "strokeDash": [5, 3]},
 "encoding": {"x": {"field": "frac", "type": "quantitative", "scale": {"domain": [-0.0127, 1.004], "nice": false}, "title": "Al Site Fraction y"}, "y": {"field": "prob", "type": "quantitative", "scale": {"domain": [0, 0.1692], "nice": false}, "title": null,
        "axis": {"orient": "right", "values": [0.02,0.04,0.06,0.08,0.12,0.14,0.16], "labels": false, "domain": false, "tickSize": 3, "title": null}}}},
{"data": {"name": "binom"}, "mark": {"type": "point", "shape": "M-1,0L1,0M0,-1L0,1M-0.71,-0.71L0.71,0.71M-0.71,0.71L0.71,-0.71", "size": 324, "stroke": "#8a8a8a", "strokeWidth": 1, "filled": false, "opacity": 1},
 "encoding": {"x": {"field": "frac", "type": "quantitative", "scale": {"domain": [-0.0127, 1.004], "nice": false}, "title": "Al Site Fraction y"}, "y": {"field": "prob", "type": "quantitative", "scale": {"domain": [0, 0.1692], "nice": false}, "axis": null}}},
{"data": {"name": "binom"}, "mark": {"type": "point", "shape": "M-1,0L1,0M0,-1L0,1M-0.71,-0.71L0.71,0.71M-0.71,0.71L0.71,-0.71", "size": 150, "stroke": "#000000", "strokeWidth": 1, "filled": false, "opacity": 1},
 "encoding": {"x": {"field": "frac", "type": "quantitative", "scale": {"domain": [-0.0127, 1.004], "nice": false}, "title": "Al Site Fraction y"}, "y": {"field": "prob", "type": "quantitative", "scale": {"domain": [0, 0.1692], "nice": false}, "axis": null}}}
],
"resolve": {"axis": {"y": "independent"}}}
],
"resolve": {"scale": {"y": "independent"}}
},
{
"width": 257, "height": 300,
"title": {"text": "(f)", "orient": "bottom", "anchor": "start", "frame": "group", "dx": -74.3, "dy": -42, "offset": 0, "fontSize": 26, "fontWeight": "normal", "color": "#1a1a1a"},
"layer": [
{"layer": [
{"data": {"name": "hf"}, "mark": {"type": "bar", "width": 5.6, "fill": "#ffffff", "stroke": "#b4b4b4", "strokeWidth": 1},
 "encoding": {
  "x": {"field": "frac", "type": "quantitative", "scale": {"domain": [-0.0171, 1.0052], "nice": false, "padding": 0}, "title": "Al Site Fraction y",
        "axis": {"values": [0,0.1,0.2,0.3,0.4,0.5,0.6,0.7,0.8,0.9,1], "labelOverlap": false, "labelExpr": "round(datum.value*10) % 2 === 0 ? format(datum.value, '.1f') : ''", "tickSize": {"condition": {"test": "round(datum.value*10) % 2 === 0", "value": 5}, "value": 3}, "titlePadding": 20}},
  "y": {"field": "freq", "type": "quantitative", "scale": {"domain": [0, 3.096], "nice": false}, "title": "Frequency / 100",
        "axis": {"values": [0, 1, 2, 3], "format": "d", "tickSize": 5, "titlePadding": 3}}}},
{"data": {"name": "hf"}, "mark": {"type": "rule", "stroke": "#8c8c8c", "strokeWidth": 3.4, "strokeDash": [4, 7], "strokeCap": "butt"},
 "encoding": {"x": {"field": "frac", "type": "quantitative", "scale": {"domain": [-0.0171, 1.0052], "nice": false}}, "y": {"field": "freq", "type": "quantitative", "scale": {"domain": [0, 3.096], "nice": false}, "axis": null}, "y2": {"datum": 0}}},
{"data": {"name": "one"}, "mark": {"type": "text", "text": "Corrected", "align": "left", "baseline": "alphabetic", "fontSize": 18}, "encoding": {"x": {"datum": 0.41, "type": "quantitative", "scale": {"domain": [-0.0171, 1.0052], "nice": false}}, "y": {"datum": 2.869, "type": "quantitative", "scale": {"domain": [0, 3.096], "nice": false},
   "axis": {"values": [0.1,0.2,0.3,0.4,0.5,0.6,0.7,0.8,0.9,1.1,1.2,1.3,1.4,1.5,1.6,1.7,1.8,1.9,2.1,2.2,2.3,2.4,2.5,2.6,2.7,2.8,2.9], "labels": false, "domain": false, "tickSize": 3, "title": null}}}},
{"data": {"name": "one"}, "mark": {"type": "text", "text": "η", "align": "left", "baseline": "alphabetic", "fontSize": 18}, "encoding": {"x": {"datum": 0.41, "type": "quantitative", "scale": {"domain": [-0.0171, 1.0052], "nice": false}}, "y": {"datum": 2.614, "type": "quantitative", "scale": {"domain": [0, 3.096], "nice": false}, "axis": null}}},
{"data": {"name": "one"}, "mark": {"type": "text", "text": "Al", "align": "left", "baseline": "alphabetic", "fontSize": 12, "dx": 10, "dy": 4}, "encoding": {"x": {"datum": 0.41, "type": "quantitative", "scale": {"domain": [-0.0171, 1.0052], "nice": false}}, "y": {"datum": 2.614, "type": "quantitative", "scale": {"domain": [0, 3.096], "nice": false}, "axis": null}}},
{"data": {"name": "one"}, "mark": {"type": "text", "text": "=0.3; η", "align": "left", "baseline": "alphabetic", "fontSize": 18, "dx": 20.7}, "encoding": {"x": {"datum": 0.41, "type": "quantitative", "scale": {"domain": [-0.0171, 1.0052], "nice": false}}, "y": {"datum": 2.614, "type": "quantitative", "scale": {"domain": [0, 3.096], "nice": false}, "axis": null}}},
{"data": {"name": "one"}, "mark": {"type": "text", "text": "Ga", "align": "left", "baseline": "alphabetic", "fontSize": 12, "dx": 76.2, "dy": 4}, "encoding": {"x": {"datum": 0.41, "type": "quantitative", "scale": {"domain": [-0.0171, 1.0052], "nice": false}}, "y": {"datum": 2.614, "type": "quantitative", "scale": {"domain": [0, 3.096], "nice": false}, "axis": null}}},
{"data": {"name": "one"}, "mark": {"type": "text", "text": "=0.15", "align": "left", "baseline": "alphabetic", "fontSize": 18, "dx": 92.2}, "encoding": {"x": {"datum": 0.41, "type": "quantitative", "scale": {"domain": [-0.0171, 1.0052], "nice": false}}, "y": {"datum": 2.614, "type": "quantitative", "scale": {"domain": [0, 3.096], "nice": false}, "axis": null}}},
{"data": {"name": "one"}, "mark": {"type": "text", "text": "<y>=0.25 n=40", "align": "left", "baseline": "alphabetic", "fontSize": 18}, "encoding": {"x": {"datum": 0.414, "type": "quantitative", "scale": {"domain": [-0.0171, 1.0052], "nice": false}}, "y": {"datum": 2.312, "type": "quantitative", "scale": {"domain": [0, 3.096], "nice": false}, "axis": null}}}
],
"resolve": {"axis": {"y": "independent"}}},
{"layer": [
{"data": {"name": "tail"}, "mark": {"type": "point", "shape": "M-1,-1L1,1L1,-1L-1,1Z", "size": 42, "stroke": "#808080", "strokeWidth": 0.8, "filled": false, "opacity": 1},
 "encoding": {"x": {"field": "frac", "type": "quantitative", "scale": {"domain": [-0.0171, 1.0052], "nice": false}, "title": "Al Site Fraction y"},
  "y": {"field": "prob", "type": "quantitative", "scale": {"domain": [0, 0.1946], "nice": false}, "title": "Probability",
        "axis": {"orient": "right", "values": [0,0.025,0.05,0.075,0.1,0.125,0.15,0.175], "labelOverlap": false, "labelExpr": "abs(datum.value*20 - round(datum.value*20)) < 0.001 ? format(datum.value, '.2f') : ''", "tickSize": {"condition": {"test": "abs(datum.value*20 - round(datum.value*20)) < 0.001", "value": 5}, "value": 3}, "titleAngle": 270, "titleBaseline": "top", "titlePadding": 11}}}},
{"data": {"name": "binom"}, "mark": {"type": "line", "stroke": "#222222", "strokeWidth": 0.9, "strokeDash": [5, 3]},
 "encoding": {"x": {"field": "frac", "type": "quantitative", "scale": {"domain": [-0.0171, 1.0052], "nice": false}, "title": "Al Site Fraction y"}, "y": {"field": "prob", "type": "quantitative", "scale": {"domain": [0, 0.1946], "nice": false}, "title": "Probability"}}},
{"data": {"name": "binom"}, "mark": {"type": "point", "shape": "M-1,0L1,0M0,-1L0,1M-0.71,-0.71L0.71,0.71M-0.71,0.71L0.71,-0.71", "size": 324, "stroke": "#8a8a8a", "strokeWidth": 1, "filled": false, "opacity": 1},
 "encoding": {"x": {"field": "frac", "type": "quantitative", "scale": {"domain": [-0.0171, 1.0052], "nice": false}, "title": "Al Site Fraction y"}, "y": {"field": "prob", "type": "quantitative", "scale": {"domain": [0, 0.1946], "nice": false}, "title": "Probability"}}},
{"data": {"name": "binom"}, "mark": {"type": "point", "shape": "M-1,0L1,0M0,-1L0,1M-0.71,-0.71L0.71,0.71M-0.71,0.71L0.71,-0.71", "size": 150, "stroke": "#000000", "strokeWidth": 1, "filled": false, "opacity": 1},
 "encoding": {"x": {"field": "frac", "type": "quantitative", "scale": {"domain": [-0.0171, 1.0052], "nice": false}, "title": "Al Site Fraction y"}, "y": {"field": "prob", "type": "quantitative", "scale": {"domain": [0, 0.1946], "nice": false}, "title": "Probability"}}}
]}
],
"resolve": {"scale": {"y": "independent"}}
}
],
"config": {
 "font": "Liberation Sans",
 "view": {"stroke": null},
 "scale": {"continuousPadding": 0},
 "axis": {"labelFont": "Liberation Sans", "labelFontSize": 20, "labelColor": "#1a1a1a", "titleFont": "Liberation Sans", "titleFontSize": 22, "titleFontWeight": "normal", "titleColor": "#1a1a1a", "domainColor": "#8c8c8c", "tickColor": "#8c8c8c", "domainWidth": 1.2, "tickWidth": 1, "grid": false, "labelFlush": false, "labelOverlap": false, "labelBound": false, "labelPadding": 2},
 "axisX": {"domainColor": "#333333", "tickColor": "#333333", "labelPadding": 5},
 "text": {"font": "Liberation Sans", "color": "#1a1a1a"},
 "title": {"font": "Liberation Sans"}
}
}
